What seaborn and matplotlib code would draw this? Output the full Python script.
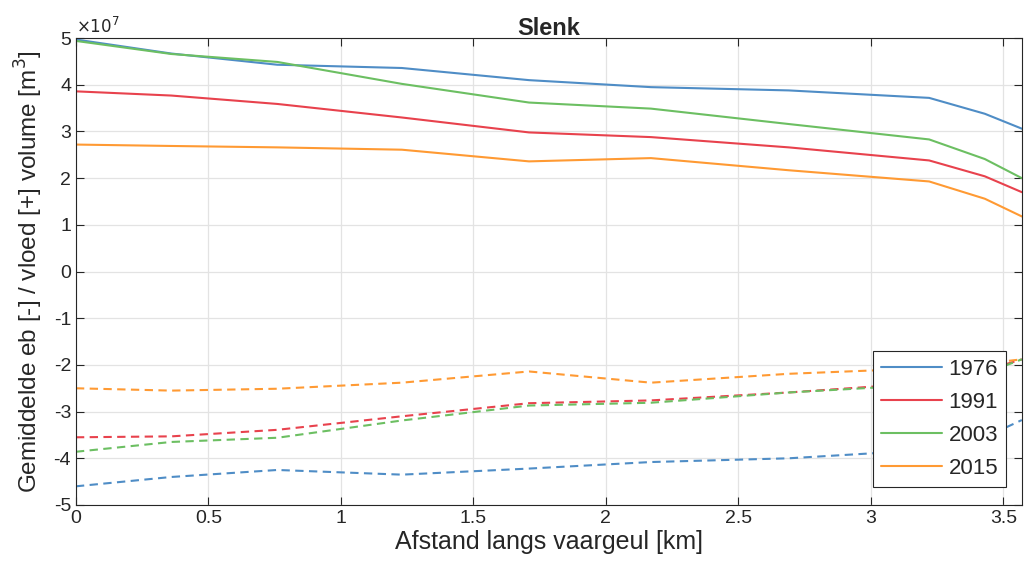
import numpy as np
import pandas as pd
import matplotlib
matplotlib.use("Agg")
import matplotlib.pyplot as plt
import seaborn as sns
from matplotlib.lines import Line2D
from matplotlib.ticker import FuncFormatter, MultipleLocator

# afstand langs vaargeul [km]
afstand = [0, 0.36, 0.76, 1.23, 1.71, 2.17, 2.69, 3.22, 3.43, 3.57]
jaren = ["1976", "1991", "2003", "2015"]

# vloedvolume [m3] (positief)
vloed_1976 = [4.97e7, 4.67e7, 4.43e7, 4.36e7, 4.10e7, 3.95e7, 3.88e7, 3.72e7, 3.38e7, 3.06e7]
vloed_1991 = [3.86e7, 3.77e7, 3.59e7, 3.30e7, 2.98e7, 2.88e7, 2.66e7, 2.38e7, 2.04e7, 1.70e7]
vloed_2003 = [4.94e7, 4.66e7, 4.49e7, 4.02e7, 3.62e7, 3.49e7, 3.16e7, 2.83e7, 2.41e7, 2.00e7]
vloed_2015 = [2.72e7, 2.69e7, 2.66e7, 2.61e7, 2.36e7, 2.43e7, 2.17e7, 1.93e7, 1.56e7, 1.18e7]

# ebvolume [m3] (negatief)
eb_1976 = [-4.60e7, -4.40e7, -4.25e7, -4.35e7, -4.22e7, -4.08e7, -4.00e7, -3.82e7, -3.55e7, -3.18e7]
eb_1991 = [-3.55e7, -3.53e7, -3.39e7, -3.10e7, -2.82e7, -2.76e7, -2.59e7, -2.38e7, -2.12e7, -1.88e7]
eb_2003 = [-3.86e7, -3.65e7, -3.56e7, -3.19e7, -2.87e7, -2.81e7, -2.59e7, -2.42e7, -2.18e7, -1.88e7]
eb_2015 = [-2.50e7, -2.55e7, -2.51e7, -2.38e7, -2.14e7, -2.38e7, -2.19e7, -2.07e7, -1.97e7, -1.88e7]

kleuren = {"1976": "#4f8dc6", "1991": "#e8424d", "2003": "#6cbf62", "2015": "#ff9a33"}

vloed = dict(zip(jaren, [vloed_1976, vloed_1991, vloed_2003, vloed_2015]))
eb = dict(zip(jaren, [eb_1976, eb_1991, eb_2003, eb_2015]))

rows = []
for j in jaren:
    for x, v in zip(afstand, vloed[j]):
        rows.append({"afstand": x, "volume": v, "jaar": j, "type": "vloed", "serie": j + "v"})
    for x, v in zip(afstand, eb[j]):
        rows.append({"afstand": x, "volume": v, "jaar": j, "type": "eb", "serie": j + "e"})
df = pd.DataFrame(rows)

sns.set_theme(style="ticks")
plt.rcParams["font.family"] = ["Liberation Sans", "DejaVu Sans"]
plt.rcParams["axes.unicode_minus"] = False

fig = plt.figure(figsize=(10.26, 5.69), dpi=100)
ax = fig.add_axes([0.074, 0.1125, 0.922, 0.8205])

sns.lineplot(data=df, x="afstand", y="volume", hue="jaar", style="type",
             units="serie", estimator=None, sort=False,
             palette=kleuren, dashes={"vloed": "", "eb": (4, 2.6)},
             linewidth=1.5, legend=False, ax=ax)

ax.set_xlim(0, 3.57)
ax.set_ylim(-5e7, 5e7)
ax.yaxis.set_major_locator(MultipleLocator(1e7))
ax.yaxis.set_major_formatter(FuncFormatter(lambda v, p: f"{v / 1e7:g}"))
ax.set_xticks(np.arange(0, 3.51, 0.5))
ax.set_xticklabels(["0", "0.5", "1", "1.5", "2", "2.5", "3", "3.5"])

# exponent boven de y-as, zoals matlab
ax.text(0.0, 1.004, r"$\times10^{7}$", transform=ax.transAxes, fontsize=12,
        color="#262626", ha="left", va="bottom")

ax.grid(True, color="#e3e3e3", linewidth=0.9)
ax.tick_params(direction="in", length=6, width=0.8, colors="#262626",
               labelsize=14, top=True, right=True, labelcolor="#262626")
for s in ax.spines.values():
    s.set_color("#262626")
    s.set_linewidth(0.8)

ax.set_xlabel("Afstand langs vaargeul [km]", fontsize=18, color="#262626", labelpad=2)
ax.set_ylabel("Gemiddelde eb [-] / vloed [+] volume [m$^3$]", fontsize=17.5,
              color="#262626", labelpad=6)
ax.set_title("Slenk", fontsize=17, fontweight="bold", pad=2)

handles = [Line2D([0], [0], color=kleuren[j], lw=1.5) for j in jaren]
leg = ax.legend(handles, jaren, loc="lower right", bbox_to_anchor=(0.983, 0.0385),
                fontsize=16, frameon=True, fancybox=False, edgecolor="#262626",
                framealpha=1, handlelength=2.75, labelspacing=0.54, borderpad=0.35,
                handletextpad=0.3, borderaxespad=0)
leg.get_frame().set_linewidth(0.8)

fig.savefig("out.png", dpi=100)
